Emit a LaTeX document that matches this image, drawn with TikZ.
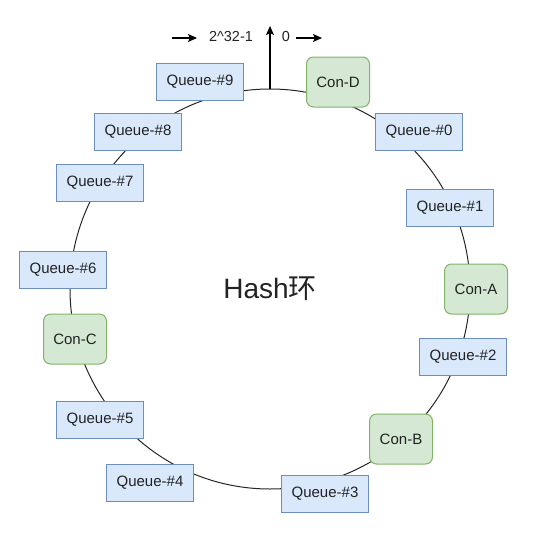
\documentclass[tikz,border=0pt]{standalone}
\usepackage{fontspec}
\setmainfont{Liberation Sans}
\newfontfamily\cjk{Noto Sans CJK SC}
\usetikzlibrary{arrows.meta}
\definecolor{qfill}{HTML}{DAE8FC}
\definecolor{qdraw}{HTML}{6C8EBF}
\definecolor{cfill}{HTML}{D5E8D4}
\definecolor{cdraw}{HTML}{82B366}
\definecolor{txt}{HTML}{222222}
\tikzset{
  queue/.style={draw=qdraw, fill=qfill, line width=1pt, minimum width=87pt, minimum height=37pt, inner sep=0pt, text=txt, font=\fontsize{15}{18}\selectfont},
  con/.style={draw=cdraw, fill=cfill, line width=1pt, rounded corners=7pt, minimum width=63pt, minimum height=50pt, inner sep=0pt, text=txt, font=\fontsize{15}{18}\selectfont},
  ring/.style={draw=black!85, line width=1pt},
  arr/.style={draw=black, line width=1.2pt, -{Stealth[length=9pt,width=8pt,inset=2pt]}},
  lbl/.style={inner sep=0pt, text=txt, font=\fontsize{14.5}{17}\selectfont}
}
\begin{document}
\begin{tikzpicture}[x=1pt,y=-1pt]
\useasboundingbox (0,0) rectangle (548,538);
\coordinate (c) at (270,289);
\draw[ring] (c) circle[radius=200];
\coordinate (top) at (270,89);
\coordinate (topend) at (270,26);
\draw[arr] (top) -- (topend);
\coordinate (a1s) at (172,38);
\coordinate (a1e) at (197,38);
\draw[arr] (a1s) -- (a1e);
\node[lbl] (maxl) at (231,37) {2\^{}32-1};
\node[lbl] (zero) at (286,37) {0};
\coordinate (a2s) at (296,38);
\coordinate (a2e) at (322,38);
\draw[arr] (a2s) -- (a2e);
\node[text=txt, font=\fontsize{28}{32}\selectfont] (hash) at (270,289) {Hash{\cjk 环}};
\node[queue] (q9) at (200,82) {Queue-\#9};
\node[con] (cd) at (338,82) {Con-D};
\node[queue] (q0) at (419,132) {Queue-\#0};
\node[queue] (q1) at (450,208) {Queue-\#1};
\node[con] (ca) at (476,289) {Con-A};
\node[queue] (q2) at (463,357) {Queue-\#2};
\node[con] (cb) at (401,439) {Con-B};
\node[queue] (q3) at (325,494) {Queue-\#3};
\node[queue] (q4) at (150,483) {Queue-\#4};
\node[queue] (q5) at (100,420) {Queue-\#5};
\node[con] (cc) at (75,339) {Con-C};
\node[queue] (q6) at (63,270) {Queue-\#6};
\node[queue] (q7) at (100,183) {Queue-\#7};
\node[queue] (q8) at (138,132) {Queue-\#8};
\end{tikzpicture}
\end{document}
